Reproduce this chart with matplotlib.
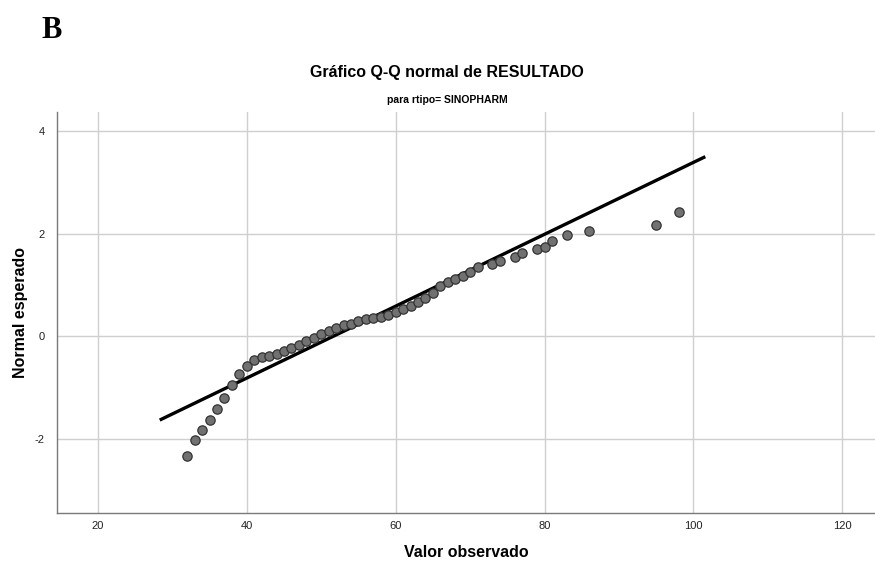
import matplotlib.pyplot as plt

observed = [32, 33, 34, 35, 36, 37, 38, 39, 40, 41, 42, 43, 44, 45, 46, 47, 48, 49, 50, 51,
            52, 53, 54, 55, 56, 57, 58, 59, 60, 61, 62, 63, 64, 65, 66, 67, 68, 69, 70, 71,
            73, 74, 76, 77, 79, 80, 81, 83, 86, 95, 98]
expected = [-2.33, -2.02, -1.83, -1.63, -1.42, -1.20, -0.95, -0.73, -0.57, -0.46,
            -0.41, -0.38, -0.34, -0.29, -0.23, -0.17, -0.09, -0.03, 0.04, 0.11,
            0.17, 0.22, 0.25, 0.29, 0.33, 0.35, 0.38, 0.42, 0.47, 0.53,
            0.59, 0.66, 0.74, 0.85, 0.98, 1.06, 1.12, 1.18, 1.26, 1.35,
            1.41, 1.46, 1.54, 1.63, 1.70, 1.75, 1.85, 1.97, 2.06, 2.17, 2.43]

# reference line end points
line_x = [28.3, 101.6]
line_y = [-1.63, 3.50]

x_ticks = [20, 40, 60, 80, 100, 120]
y_ticks = [-2, 0, 2, 4]

plt.rcParams['font.family'] = ['Liberation Sans', 'DejaVu Sans']
plt.rcParams['axes.unicode_minus'] = False

fig = plt.figure(figsize=(8.75, 5.63), dpi=100)
ax = fig.add_axes([57 / 875, 50 / 563, 818 / 875, 401 / 563])

ax.set_xlim(14.5, 124.4)
ax.set_ylim(-3.44, 4.37)
ax.set_xticks(x_ticks)
ax.set_yticks(y_ticks)
ax.grid(True, color='#cfcfcf', linewidth=1.0)
ax.set_axisbelow(True)
ax.tick_params(length=0, labelsize=8, colors='#222222')
ax.tick_params(axis='x', pad=6)
ax.tick_params(axis='y', pad=9)

for side in ['top', 'right']:
    ax.spines[side].set_visible(False)
for side in ['left', 'bottom']:
    ax.spines[side].set_color('#7a7a7a')
    ax.spines[side].set_linewidth(1.0)

ax.plot(line_x, line_y, color='black', linewidth=2.4, solid_capstyle='butt', zorder=2)
ax.plot(observed, expected, linestyle='none', marker='o', markersize=6.7,
        markerfacecolor='#717171', markeredgecolor='#333333', markeredgewidth=0.9, zorder=3)

ax.set_xlabel('Valor observado', fontsize=11.5, fontweight='bold', labelpad=10)
ax.set_ylabel('Normal esperado', fontsize=11.5, fontweight='bold', labelpad=5)

fig.text(0.511, 0.872, 'Gráfico Q-Q normal de RESULTADO', ha='center', va='center',
         fontsize=11.5, fontweight='bold')
fig.text(0.511, 0.822, 'para rtipo= SINOPHARM', ha='center', va='center',
         fontsize=7.5, fontweight='bold')
fig.text(0.047, 0.933, 'B', ha='left', va='baseline', fontsize=22, fontweight='bold',
         family=['Liberation Serif', 'DejaVu Serif'])

plt.savefig('out.png', dpi=100)
